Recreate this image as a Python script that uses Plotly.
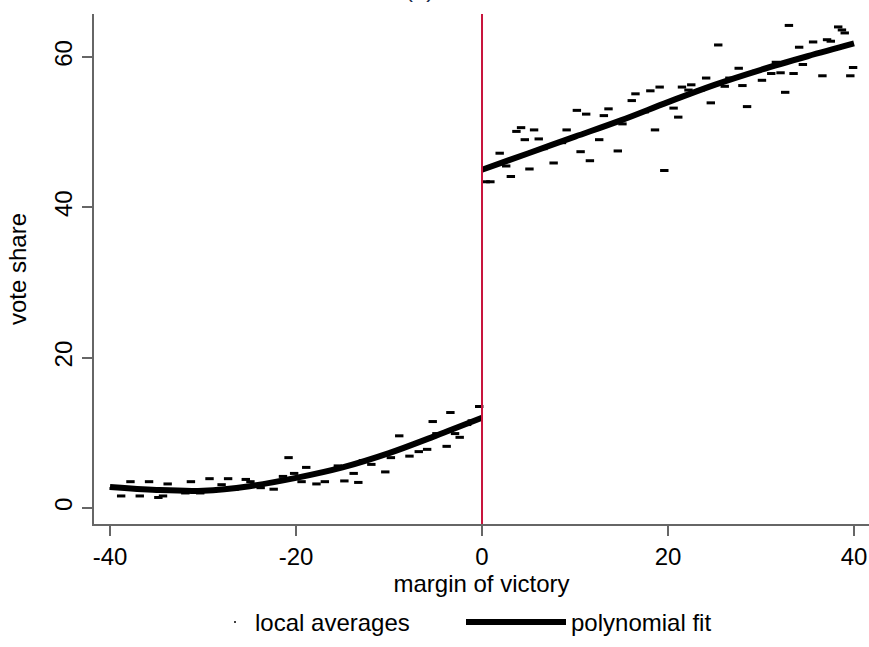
import plotly.graph_objects as go

# ---- data ----
left_x = [-39.6, -38.8, -37.8, -36.8, -35.8, -34.8, -34.3, -33.8, -32.8, -31.9, -31.3, -30.3,
          -29.3, -28.0, -27.3, -26.6, -25.4, -24.9, -23.8, -22.4, -21.4, -20.8, -20.2, -19.4,
          -18.9, -17.8, -16.9, -15.5, -14.8, -13.8, -13.3, -12.8, -11.9, -10.4, -9.8, -8.9,
          -7.8, -6.8, -5.9, -5.3, -4.9, -3.8, -3.4, -2.9, -2.4, -1.6, -1.1, -0.3]
left_y = [2.6, 1.6, 3.5, 1.6, 3.5, 1.4, 1.6, 3.2, 2.4, 2.0, 3.5, 2.0,
          3.9, 3.1, 3.9, 2.5, 3.8, 3.5, 2.7, 2.5, 4.2, 6.7, 4.6, 3.5,
          5.4, 3.2, 3.5, 5.6, 3.6, 4.6, 3.4, 6.3, 5.8, 4.8, 6.7, 9.6,
          6.9, 7.5, 7.8, 11.5, 9.9, 8.2, 12.7, 9.9, 9.4, 11.1, 11.6, 13.5]

right_x = [0.4, 0.9, 1.9, 2.6, 3.1, 3.7, 4.2, 4.6, 5.1, 5.6, 6.1, 6.6, 7.7, 8.6, 9.1,
           10.2, 10.6, 11.2, 11.6, 12.6, 13.1, 13.6, 14.6, 15.1, 16.1, 16.5, 17.5, 18.1,
           18.6, 19.1, 19.6, 20.6, 21.1, 21.5, 22.2, 22.5, 23.5, 24.1, 24.6, 25.4, 26.1,
           26.6, 27.6, 28.0, 28.5, 29.5, 30.1, 31.1, 31.6, 32.1, 32.6, 33.0, 33.5, 34.1,
           34.5, 35.6, 36.6, 37.1, 37.5, 38.3, 38.7, 39.0, 39.6, 39.9]
right_y = [43.4, 43.4, 47.2, 45.5, 44.1, 50.1, 50.6, 49.0, 45.1, 50.3, 49.1, 47.8, 45.9, 48.6, 50.3,
           52.9, 47.4, 52.4, 46.2, 49.0, 52.2, 53.1, 47.5, 51.1, 54.2, 55.1, 52.7, 55.5,
           50.3, 56.0, 44.9, 53.2, 52.0, 56.0, 55.6, 56.3, 55.6, 57.2, 53.9, 61.6, 56.1,
           57.2, 58.5, 56.2, 53.4, 58.1, 56.9, 57.8, 59.3, 57.9, 55.3, 64.2, 57.8, 61.3,
           59.0, 62.0, 57.5, 62.3, 62.1, 64.0, 63.6, 63.2, 57.5, 58.6]

fit_left_x = [-40, -35, -30, -25, -20, -15, -10, -5, 0]
fit_left_y = [2.8, 2.4, 2.3, 2.9, 4.0, 5.4, 7.3, 9.6, 12.0]
fit_right_x = [0, 5, 10, 15, 20, 25, 30, 35, 40]
fit_right_y = [45.0, 47.2, 49.4, 51.6, 54.0, 56.3, 58.3, 60.1, 61.8]

x_ticks = [-40, -20, 0, 20, 40]
y_ticks = [0, 20, 40, 60]
cutoff = 0

FONT = "Liberation Sans, Arial, sans-serif"

fig = go.Figure()

dash_marker = dict(symbol="line-ew", size=6, color="black",
                   line=dict(color="black", width=3))

fig.add_trace(go.Scatter(x=left_x + right_x, y=left_y + right_y, mode="markers",
                         marker=dash_marker, showlegend=False, hoverinfo="x+y"))

# legend-only entry for local averages (tiny dot as in reference)
fig.add_trace(go.Scatter(x=[None], y=[None], mode="markers", name="local averages",
                         marker=dict(symbol="circle", size=2, color="black"),
                         legend="legend"))

fig.add_trace(go.Scatter(x=fit_left_x, y=fit_left_y, mode="lines", line_shape="spline",
                         line=dict(color="black", width=6), name="polynomial fit",
                         showlegend=True, legend="legend2"))
fig.add_trace(go.Scatter(x=fit_right_x, y=fit_right_y, mode="lines", line_shape="spline",
                         line=dict(color="black", width=6), name="polynomial fit",
                         showlegend=False, legend="legend2"))

fig.add_shape(type="line", xref="x", yref="paper", x0=cutoff, x1=cutoff, y0=0, y1=1,
              line=dict(color="#c8143c", width=2))

fig.add_annotation(text="(a)", xref="paper", yref="paper", x=0.42, y=1.020,
                   xanchor="center", yanchor="bottom", showarrow=False,
                   font=dict(family=FONT, size=24, color="#1a2a4a"))

axis_common = dict(showline=True, linecolor="#666666", linewidth=2, ticks="outside",
                   ticklen=10, tickwidth=1.5, tickcolor="#666666", showgrid=False,
                   zeroline=False, tickfont=dict(family=FONT, size=24, color="black"))

fig.update_xaxes(range=[-41.72, 41.61], tickvals=x_ticks, ticktext=[str(v) for v in x_ticks],
                 title=dict(text="margin of victory", font=dict(family=FONT, size=24, color="black"),
                            standoff=0),
                 **axis_common)
fig.update_yaxes(range=[-2.13, 65.72], tickvals=y_ticks, ticktext=[str(v) for v in y_ticks],
                 tickangle=-90,
                 title=dict(text="vote share", font=dict(family=FONT, size=24, color="black"),
                            standoff=17),
                 **axis_common)

legend_font = dict(family=FONT, size=24, color="black")
fig.update_layout(
    width=869, height=647,
    margin=dict(l=94, r=0, t=14, b=123),
    plot_bgcolor="white", paper_bgcolor="white",
    font=dict(family=FONT, size=24, color="black"),
    legend=dict(orientation="h", x=215 / 869, xref="container", xanchor="left",
                y=0.038, yref="container", yanchor="middle", font=legend_font,
                itemwidth=30, bgcolor="rgba(0,0,0,0)"),
    legend2=dict(orientation="h", x=461 / 869, xref="container", xanchor="left",
                 y=0.038, yref="container", yanchor="middle", font=legend_font,
                 itemwidth=100, bgcolor="rgba(0,0,0,0)"),
)

fig.write_html("out.html")
